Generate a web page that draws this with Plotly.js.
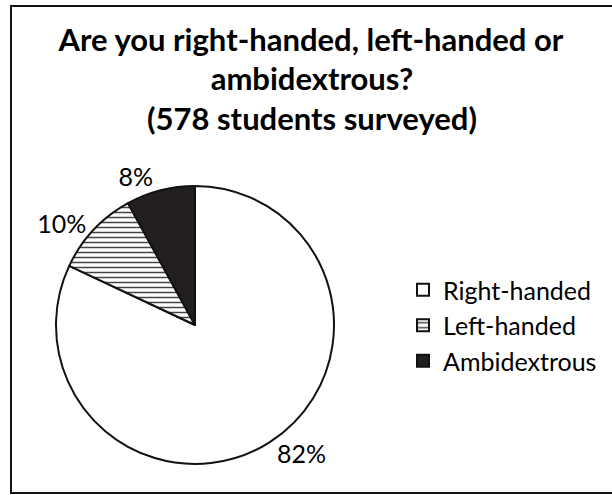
<!DOCTYPE html>
<html>
<head>
<meta charset="utf-8">
<script src="https://cdn.plot.ly/plotly-3.0.1.min.js"></script>
<style>html,body{margin:0;padding:0;background:#fff;}#chart{width:612px;height:495px;}</style>
</head>
<body>
<div id="chart"></div>
<script>
const categories = ["Right-handed", "Left-handed", "Ambidextrous"];
const percents = [82, 10, 8];
const titleLines = ["Are you right-handed, left-handed or", "ambidextrous?", "(578 students surveyed)"];

const FONT = "Lato, 'Open Sans', sans-serif";
const TITLE_SIZE = 31;
const LABEL_SIZE = 25;

const trace = {
  type: "pie",
  labels: categories,
  values: percents,
  sort: false,
  direction: "clockwise",
  rotation: 0,
  textinfo: "percent",
  textposition: "outside",
  texttemplate: "%{value}%",
  outsidetextfont: {family: FONT, size: LABEL_SIZE, color: "#000"},
  marker: {
    colors: ["#ffffff", "#ffffff", "#231f20"],
    line: {color: "#111", width: 2},
    pattern: {shape: ["", "-", ""], fgcolor: "#444", bgcolor: "#ffffff", size: 5, solidity: 0.3, fillmode: "replace"}
  },
  domain: {x: [56/612, 334/612], y: [1 - 464/495, 1 - 186/495]},
  hoverinfo: "none"
};

const layout = {
  width: 612,
  height: 495,
  margin: {l: 0, r: 0, t: 0, b: 0},
  paper_bgcolor: "#fff",
  font: {family: FONT, color: "#000"},
  title: {
    text: "<b>" + titleLines[0] + "</b>",
    font: {family: FONT, size: TITLE_SIZE, color: "#000"},
    x: 0.508, xanchor: "center",
    y: 1 - 40/495, yanchor: "middle",
    xref: "paper", yref: "paper"
  },
  annotations: [
    {
      text: "<b>" + titleLines[1] + "<br>" + titleLines[2] + "</b>",
      xref: "paper", yref: "paper",
      x: 0.51, xanchor: "center",
      y: 1 - 98/495, yanchor: "middle",
      showarrow: false,
      align: "center",
      font: {family: FONT, size: TITLE_SIZE, color: "#000"}
    }
  ],
  showlegend: true,
  legend: {
    x: 403/612, y: 1 - 267/495, xanchor: "left", yanchor: "top",
    font: {family: FONT, size: LABEL_SIZE, color: "#000"},
    bgcolor: "rgba(0,0,0,0)",
    itemwidth: 30,
    tracegroupgap: 0
  },
  shapes: [{
    type: "rect", xref: "paper", yref: "paper",
    x0: 11/612, x1: 1.05, y0: 1 - 493/495, y1: 1 - 6/495,
    line: {color: "#111", width: 2}, fillcolor: "rgba(0,0,0,0)", layer: "below"
  }]
};

Plotly.newPlot("chart", [trace], layout, {displayModeBar: false, staticPlot: true});
</script>
</body>
</html>
